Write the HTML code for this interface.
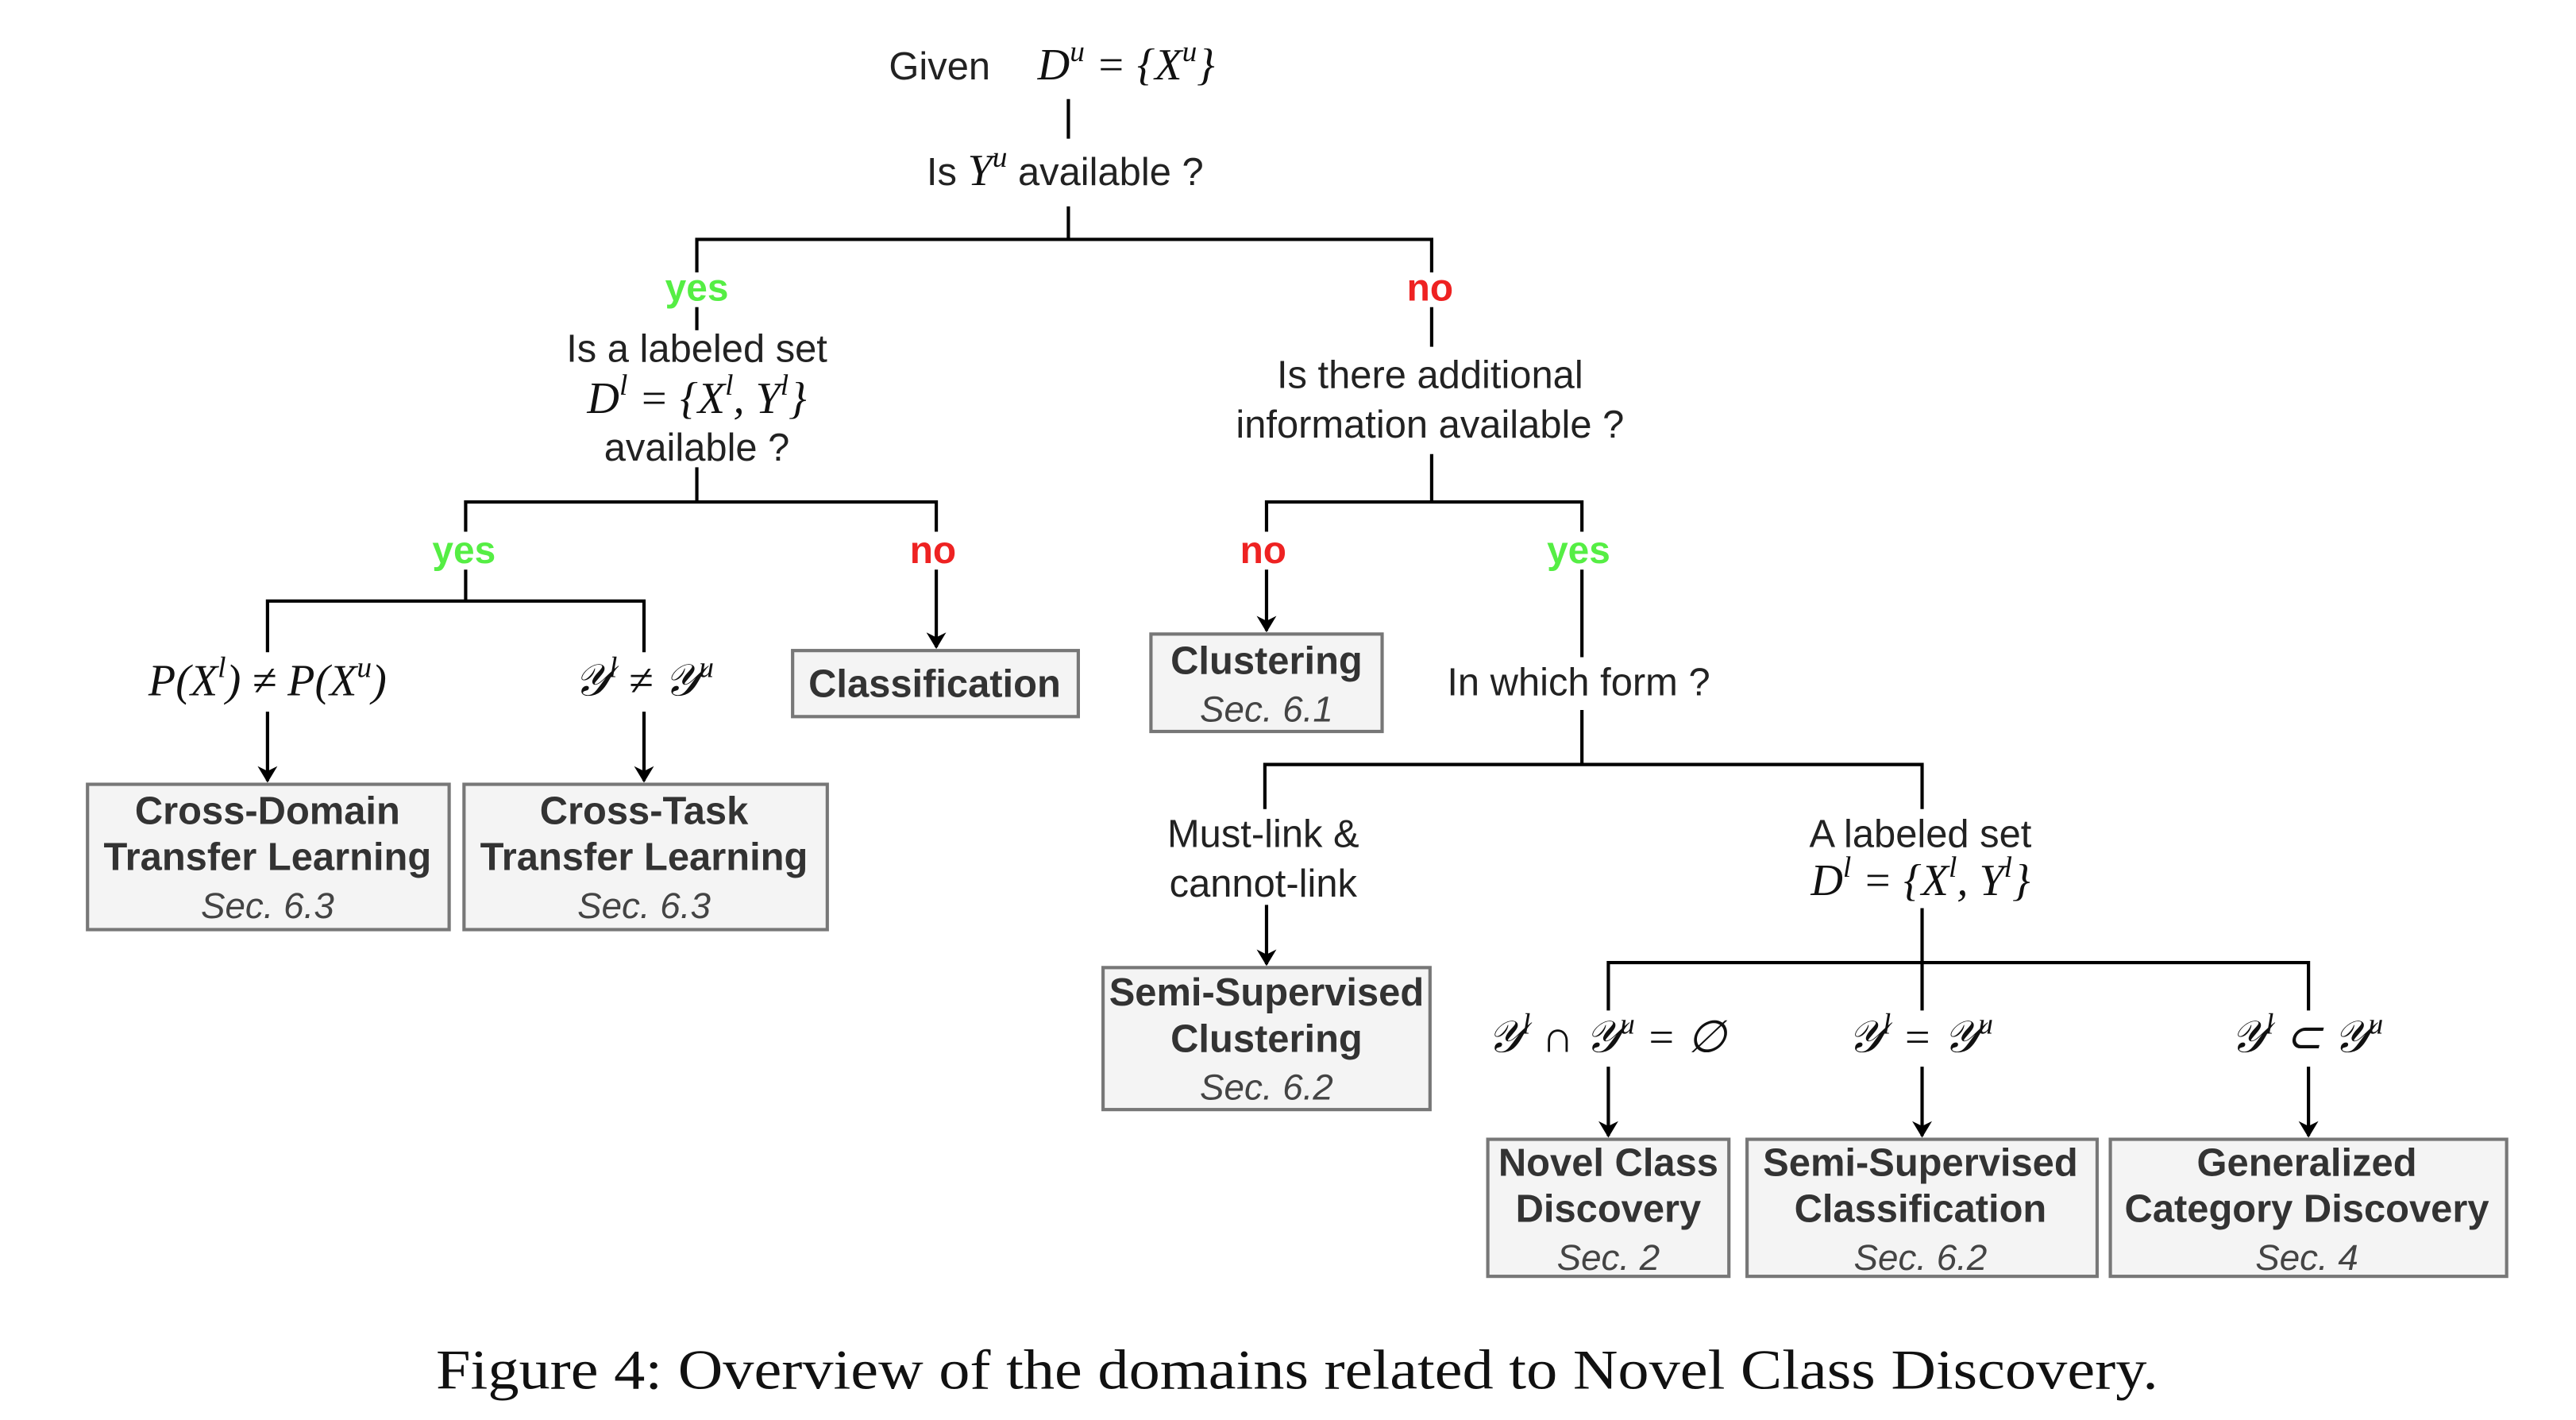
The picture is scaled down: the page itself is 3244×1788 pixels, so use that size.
<!DOCTYPE html>
<html><head><meta charset="utf-8"><style>
html,body{margin:0;padding:0;background:#fff;}
svg{display:block}
.t{font-family:"Liberation Sans",sans-serif;font-size:23.5px;fill:#222;text-anchor:middle}
.m{font-family:"Liberation Serif",serif;font-style:italic;font-size:27px;fill:#111;text-anchor:middle}
.b{font-family:"Liberation Sans",sans-serif;font-size:23.5px;font-weight:bold;fill:#333;text-anchor:middle}
.s{font-family:"Liberation Sans",sans-serif;font-size:22px;font-style:italic;fill:#444;text-anchor:middle}
.g{font-family:"Liberation Sans",sans-serif;font-size:23px;font-weight:bold;fill:#55ee44;text-anchor:middle}
.r{font-family:"Liberation Sans",sans-serif;font-size:23px;font-weight:bold;fill:#ee2222;text-anchor:middle}
.l{stroke:#000;stroke-width:2;fill:none}
.box{fill:#f4f4f4;stroke:#777;stroke-width:2}
.cap{font-family:"Liberation Serif",serif;font-size:34px;fill:#111}
</style></head><body>
<svg width="3244" height="1788" viewBox="0 0 1560 860" preserveAspectRatio="none" xmlns="http://www.w3.org/2000/svg">
<defs><marker id="a" markerWidth="10" markerHeight="12" refX="9" refY="6" orient="auto" markerUnits="userSpaceOnUse"><path d="M0,0 L10,6 L0,12 L3,6 Z" fill="#000"/></marker></defs>
<text class="t" x="569" y="48">Given</text>
<text class="m" x="682" y="48">D<tspan dy="-11" font-size="18">u</tspan><tspan dy="11"> = {X</tspan><tspan dy="-11" font-size="18">u</tspan><tspan dy="11">}</tspan></text>
<line class="l" x1="647" y1="60" x2="647" y2="84"/>
<text class="t" x="645" y="112">Is <tspan class="m" style="font-size:27px">Y<tspan dy="-11" font-size="18">u</tspan></tspan><tspan dy="11"> available ?</tspan></text>
<path class="l" d="M647 125V145M422 165V145H867V165"/>
<text class="g" x="422" y="182">yes</text>
<text class="r" x="866" y="182">no</text>
<line class="l" x1="422" y1="186" x2="422" y2="200"/>
<line class="l" x1="867" y1="186" x2="867" y2="210"/>
<text class="t" x="422" y="219">Is a labeled set</text>
<text class="m" x="422" y="250">D<tspan dy="-11" font-size="18">l</tspan><tspan dy="11"> = {X</tspan><tspan dy="-11" font-size="18">l</tspan><tspan dy="11">, Y</tspan><tspan dy="-11" font-size="18">l</tspan><tspan dy="11">}</tspan></text>
<text class="t" x="422" y="279">available ?</text>
<text class="t" x="866" y="235">Is there additional</text>
<text class="t" x="866" y="265">information available ?</text>
<path class="l" d="M422 283V304M282 322V304H567V322"/>
<path class="l" d="M867 275V304M767 322V304H958V322"/>
<text class="g" x="281" y="341">yes</text>
<text class="r" x="565" y="341">no</text>
<text class="r" x="765" y="341">no</text>
<text class="g" x="956" y="341">yes</text>
<path class="l" d="M282 345V364M162 395V364H390V395"/>
<text class="m" x="162" y="421">P(X<tspan dy="-11" font-size="18">l</tspan><tspan dy="11">) ≠ P(X</tspan><tspan dy="-11" font-size="18">u</tspan><tspan dy="11">)</tspan></text>
<text class="m" x="390" y="421">𝒴<tspan dy="-11" font-size="18">l</tspan><tspan dy="11"> ≠ 𝒴</tspan><tspan dy="-11" font-size="18">u</tspan></text>
<line class="l" x1="162" y1="431" x2="162" y2="473" marker-end="url(#a)"/>
<line class="l" x1="390" y1="431" x2="390" y2="473" marker-end="url(#a)"/>
<rect class="box" x="53" y="475" width="219" height="88"/>
<rect class="box" x="281" y="475" width="220" height="88"/>
<text class="b" x="162" y="499">Cross-Domain</text><text class="b" x="162" y="527">Transfer Learning</text><text class="s" x="162" y="556">Sec. 6.3</text>
<text class="b" x="390" y="499">Cross-Task</text><text class="b" x="390" y="527">Transfer Learning</text><text class="s" x="390" y="556">Sec. 6.3</text>
<line class="l" x1="567" y1="345" x2="567" y2="392" marker-end="url(#a)"/>
<rect class="box" x="480" y="394" width="173" height="40"/>
<text class="b" x="566" y="422">Classification</text>
<line class="l" x1="767" y1="345" x2="767" y2="382" marker-end="url(#a)"/>
<rect class="box" x="697" y="384" width="140" height="59"/>
<text class="b" x="767" y="408">Clustering</text><text class="s" x="767" y="437">Sec. 6.1</text>
<line class="l" x1="958" y1="345" x2="958" y2="398"/>
<text class="t" x="956" y="421">In which form ?</text>
<path class="l" d="M958 430V463M766 490V463H1164V490"/>
<text class="t" x="765" y="513">Must-link &amp;</text>
<text class="t" x="765" y="543">cannot-link</text>
<line class="l" x1="767" y1="548" x2="767" y2="584" marker-end="url(#a)"/>
<rect class="box" x="668" y="586" width="198" height="86"/>
<text class="b" x="767" y="609">Semi-Supervised</text><text class="b" x="767" y="637">Clustering</text><text class="s" x="767" y="666">Sec. 6.2</text>
<text class="t" x="1163" y="513">A labeled set</text>
<text class="m" x="1163" y="542">D<tspan dy="-11" font-size="18">l</tspan><tspan dy="11"> = {X</tspan><tspan dy="-11" font-size="18">l</tspan><tspan dy="11">, Y</tspan><tspan dy="-11" font-size="18">l</tspan><tspan dy="11">}</tspan></text>
<path class="l" d="M1164 550V612M974 612V583H1398V612"/>
<text class="m" x="973" y="637">𝒴<tspan dy="-11" font-size="18">l</tspan><tspan dy="11"> ∩ 𝒴</tspan><tspan dy="-11" font-size="18">u</tspan><tspan dy="11"> = ∅</tspan></text>
<text class="m" x="1163" y="637">𝒴<tspan dy="-11" font-size="18">l</tspan><tspan dy="11"> = 𝒴</tspan><tspan dy="-11" font-size="18">u</tspan></text>
<text class="m" x="1397" y="637">𝒴<tspan dy="-11" font-size="18">l</tspan><tspan dy="11"> ⊂ 𝒴</tspan><tspan dy="-11" font-size="18">u</tspan></text>
<line class="l" x1="974" y1="646" x2="974" y2="688" marker-end="url(#a)"/>
<line class="l" x1="1164" y1="646" x2="1164" y2="688" marker-end="url(#a)"/>
<line class="l" x1="1398" y1="646" x2="1398" y2="688" marker-end="url(#a)"/>
<rect class="box" x="901" y="690" width="146" height="83"/>
<rect class="box" x="1058" y="690" width="212" height="83"/>
<rect class="box" x="1278" y="690" width="240" height="83"/>
<text class="b" x="974" y="712">Novel Class</text><text class="b" x="974" y="740">Discovery</text><text class="s" x="974" y="769">Sec. 2</text>
<text class="b" x="1163" y="712">Semi-Supervised</text><text class="b" x="1163" y="740">Classification</text><text class="s" x="1163" y="769">Sec. 6.2</text>
<text class="b" x="1397" y="712">Generalized</text><text class="b" x="1397" y="740">Category Discovery</text><text class="s" x="1397" y="769">Sec. 4</text>
<text class="cap" x="264" y="841" textLength="1043" lengthAdjust="spacingAndGlyphs">Figure 4: Overview of the domains related to Novel Class Discovery.</text>
</svg>
</body></html>
